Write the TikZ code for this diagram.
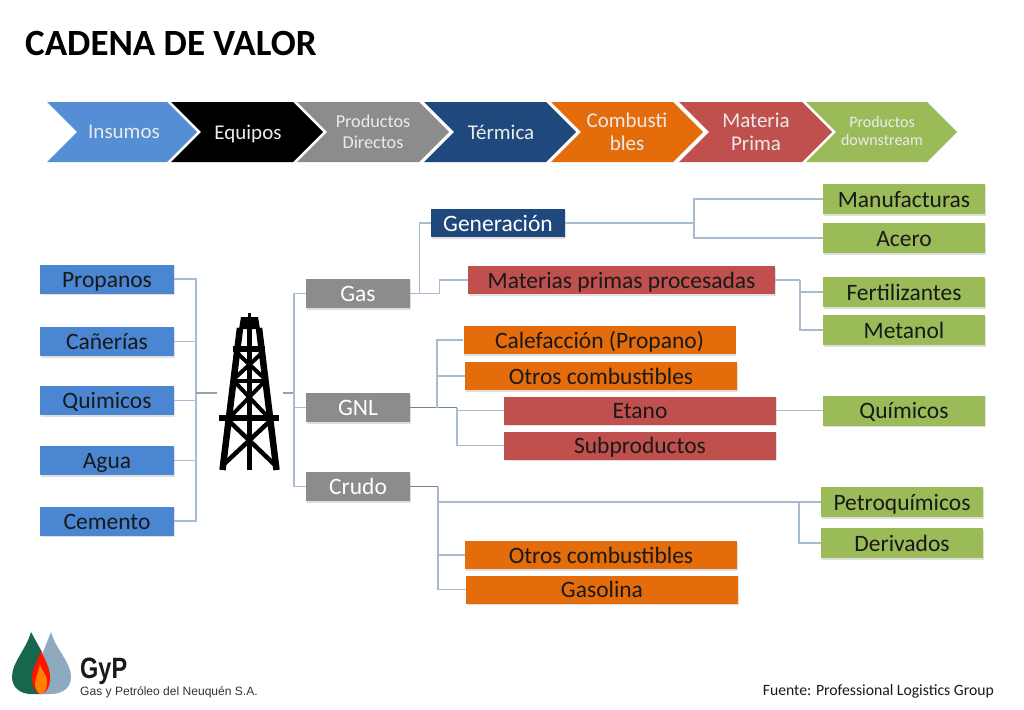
\documentclass[tikz,border=0pt]{standalone}
\usepackage{fontspec}
\setmainfont{Carlito}
\newfontfamily\logofont{Liberation Sans}
\usetikzlibrary{arrows,shapes,positioning,shadows,trees}

\definecolor{cblue}{HTML}{4A86D2}
\definecolor{clight}{HTML}{558ED5}
\definecolor{cgray}{HTML}{8C8C8C}
\definecolor{cnavy}{HTML}{1F497D}
\definecolor{corange}{HTML}{E46C0A}
\definecolor{cred}{HTML}{C0504D}
\definecolor{cgreen}{HTML}{9BBB59}
\definecolor{clink}{HTML}{A9BBD0}
\definecolor{cdrop}{HTML}{17674F}
\definecolor{cdropb}{HTML}{8FA9BE}

\begin{document}
\begin{tikzpicture}[x=1pt,y=-1pt,
		node distance=60pt,
		basic/.style  = {rectangle, inner sep=0pt, text height=18pt, text depth=2pt, align=center, font=\fontsize{23.5}{25}\selectfont,
			drop shadow={shadow xshift=.8pt, shadow yshift=-1.5pt, opacity=.25}},
		left box/.style = {basic, fill=cblue, text=black!90, minimum width=134pt, minimum height=29pt},
		gas box/.style = {basic, fill=cgray, text=white, minimum width=104pt, minimum height=29pt},
		navy box/.style = {basic, fill=cnavy, text=white, minimum width=134pt, minimum height=28pt},
		red box/.style = {basic, fill=cred, text=black!90, minimum width=272pt, minimum height=28pt},
		orange box/.style = {basic, fill=corange, text=black!90, minimum width=272pt, minimum height=28pt},
		green box/.style = {basic, fill=cgreen, text=black!90, minimum width=162pt, minimum height=30pt},
		link/.style = {draw=clink, line width=1.1pt},
		dark link/.style = {draw=clink!70!black, line width=1.2pt},
		rig/.style = {line width=#1, draw=black}]

		\useasboundingbox (0,0) rectangle (1024,709);

		% title and source
		\node[anchor=west, inner sep=0pt, font=\fontsize{37}{40}\bfseries\selectfont, text=black] (title) at (25,43) {CADENA DE VALOR};
		\node[anchor=east, inner sep=0pt, font=\fontsize{15.7}{18}\selectfont, text=black!90] (source) at (994,691) {Fuente: Professional Logistics Group};

		% chevrons of the top band
		\foreach \xa/\xb/\tone/\name/\xt/\yt/\fs/\lh/\txt in {
			47/167/clight/insumos/124/132/21/22/{Insumos},
			171/293/black/equipos/248/133.5/21/22/{Equipos},
			297/419/cgray/directos/373/132/18.2/21/{Productos\\Directos},
			424/546/cnavy/termica/501/132/21/22/{T\'ermica},
			551/673/corange/combust/627/132/21/23/{Combusti\\bles},
			679/802/cred/materia/756/132/21/23/{Materia\\Prima},
			806/927/cgreen/downstream/882/131.5/16/18/{Productos\\downstream}}
		{
			\fill[\tone] (\xa,102) -- (\xb,102) -- ({\xb+30},132) -- (\xb,162) -- (\xa,162) -- ({\xa+30},132) -- cycle;
			\node[align=center, text=white!92!black, inner sep=0pt, font=\fontsize{\fs}{\lh}\selectfont] (\name) at (\xt,\yt) {\txt};
		}

		% left column, inputs
		\node[left box] (propanos) at (107,279) {Propanos};
		\node[left box, below of = propanos, yshift=-2.5pt] (canerias) {Ca\~ner\'ias};
		\node[left box, below of = canerias, yshift=1pt] (quimicos) {Quimicos};
		\node[left box, below of = quimicos] (agua) {Agua};
		\node[left box, below of = agua, yshift=-.5pt] (cemento) {Cemento};

		% oil rig in the middle
		\node[minimum width=65pt, minimum height=158pt, inner sep=0pt] (derrick) at (250,393) {};
		\draw[rig=3pt] (249.5,313) -- (249.5,318);
		\fill (241,317) -- (258,317) -- (260,329) -- (239,329) -- cycle;
		\draw[rig=6.5pt] (240,328) -- (222.5,470);
		\draw[rig=6.5pt] (259,328) -- (276.5,470);
		\draw[rig=4.5pt] (249.5,328) -- (249.5,470);
		\draw[rig=6pt] (233,349) -- (265,349);
		\draw[rig=6.5pt] (219,418) -- (279,418);
		\draw[rig=4pt] (236,352) -- (264,378);
		\draw[rig=4pt] (263,352) -- (235,378);
		\draw[rig=4pt] (233,381) -- (266,381);
		\draw[rig=4pt] (234,381) -- (266,415);
		\draw[rig=4pt] (265,381) -- (232,415);
		\draw[rig=4.5pt] (229,421) -- (275,465);
		\draw[rig=4.5pt] (270,421) -- (223,465);

		% second column
		\node[gas box] (gas) at (358,293.5) {Gas};
		\node[gas box] (gnl) at (358,407.5) {GNL};
		\node[gas box] (crudo) at (358,486.5) {Crudo};

		% third column
		\node[navy box] (generacion) at (498,223) {Generaci\'on};
		\node[red box, minimum width=307pt] (materias) at (621.5,280) {Materias primas procesadas};
		\node[orange box] (calefaccion) at (599.5,340) {Calefacci\'on (Propano)};
		\node[orange box, below of = calefaccion, yshift=24pt, xshift=1.5pt] (otros) {Otros combustibles};
		\node[red box] (etano) at (640,410.5) {Etano};
		\node[red box, below of = etano, yshift=25pt] (subproductos) {Subproductos};
		\node[orange box] (otrosb) at (601,555) {Otros combustibles};
		\node[orange box, below of = otrosb, yshift=25.5pt, xshift=1pt] (gasolina) {Gasolina};

		% right column, outputs
		\node[green box] (manufacturas) at (904,199) {Manufacturas};
		\node[green box, below of = manufacturas, yshift=21pt] (acero) {Acero};
		\node[green box] (fertilizantes) at (904,292) {Fertilizantes};
		\node[green box, below of = fertilizantes, yshift=22pt] (metanol) {Metanol};
		\node[green box] (quimicosb) at (904,410.5) {Qu\'imicos};
		\node[green box] (petroquimicos) at (902,502) {Petroqu\'imicos};
		\node[green box, below of = petroquimicos, yshift=19pt] (derivados) {Derivados};

		% junctions of the connectors
		\coordinate (busl) at (196,393);
		\coordinate (busr) at (294,393);
		\coordinate (busgen) at (694,223);
		\coordinate (busmat) at (800,280);
		\coordinate (busfuel) at (437,407.5);
		\coordinate (busetano) at (457,407.5);
		\coordinate (buscrudo) at (438,486.5);
		\coordinate (buspetro) at (799,502);

		% lines from the inputs to the rig
		\foreach \value in {propanos,canerias,quimicos,agua,cemento}
		\draw[link] (\value.east) -| (busl);
		\draw[link, draw=clink!60!gray, line width=1.5pt] (busl) -- (derrick.west);

		% lines from the rig to the products
		\draw[link, draw=clink!60!gray] (derrick.east) -- (busr);
		\foreach \value in {gas,gnl,crudo}
		\draw[link] (busr) |- (\value.west);

		% gas branch
		\draw[link] (gas.east) -| ([xshift=-11pt]generacion.west) -- (generacion.west);
		\draw[link] (gas.east) -- ++(29,0) |- (materias.west);
		\draw[link] (generacion.east) -- (busgen);
		\foreach \value in {manufacturas,acero}
		\draw[link] (busgen) |- (\value.west);
		\draw[link] (materias.east) -- (busmat);
		\foreach \value in {fertilizantes,metanol}
		\draw[link] (busmat) |- (\value.west);

		% gnl branch
		\draw[dark link] (gnl.east) -- (busetano);
		\foreach \value in {calefaccion,otros}
		\draw[link] (busfuel) |- (\value.west);
		\foreach \value in {etano,subproductos}
		\draw[link] (busetano) |- (\value.west);
		\draw[link] (etano.east) -- (quimicosb.west);

		% crudo branch
		\draw[dark link] (crudo.east) -- (buscrudo);
		\foreach \value in {petroquimicos,otrosb,gasolina}
		\draw[link] (buscrudo) |- (\value.west);
		\draw[link] (buspetro) |- (derivados.west);

		% company logo
		\fill[cdropb] (51,632) .. controls (56,650) and (71,662) .. (71,677) .. controls (71,688) and (62,694) .. (51,694) -- (40,694) -- (40,660) -- cycle;
		\fill[cdrop] (31,632) .. controls (26,650) and (12,662) .. (12,677) .. controls (12,688) and (21,694) .. (31,694) -- (42,694) -- (42,652) -- cycle;
		\fill[red!85!orange] (41,651) .. controls (46,662) and (50,668) .. (50,678) .. controls (50,688) and (45,694) .. (41,694) .. controls (37,694) and (32,688) .. (32,678) .. controls (32,668) and (37,662) .. cycle;
		\fill[orange] (40,664) .. controls (42,672) and (47,674) .. (47,682) .. controls (47,690) and (44,694) .. (41,694) .. controls (38,694) and (35,690) .. (35,682) .. controls (35,676) and (37,680) .. cycle;
		\node[anchor=base west, inner sep=0pt, font=\logofont\bfseries\fontsize{23.5}{26}\selectfont, text=black!90] (gyp) at (80,678) {\scalebox{1}[1.25]{GyP}};
		\node[anchor=base west, inner sep=0pt, font=\logofont\fontsize{12.05}{14}\selectfont, text=black!80] (gyptext) at (80,695) {Gas y Petr\'oleo del Neuqu\'en S.A.};
\end{tikzpicture}
\end{document}
